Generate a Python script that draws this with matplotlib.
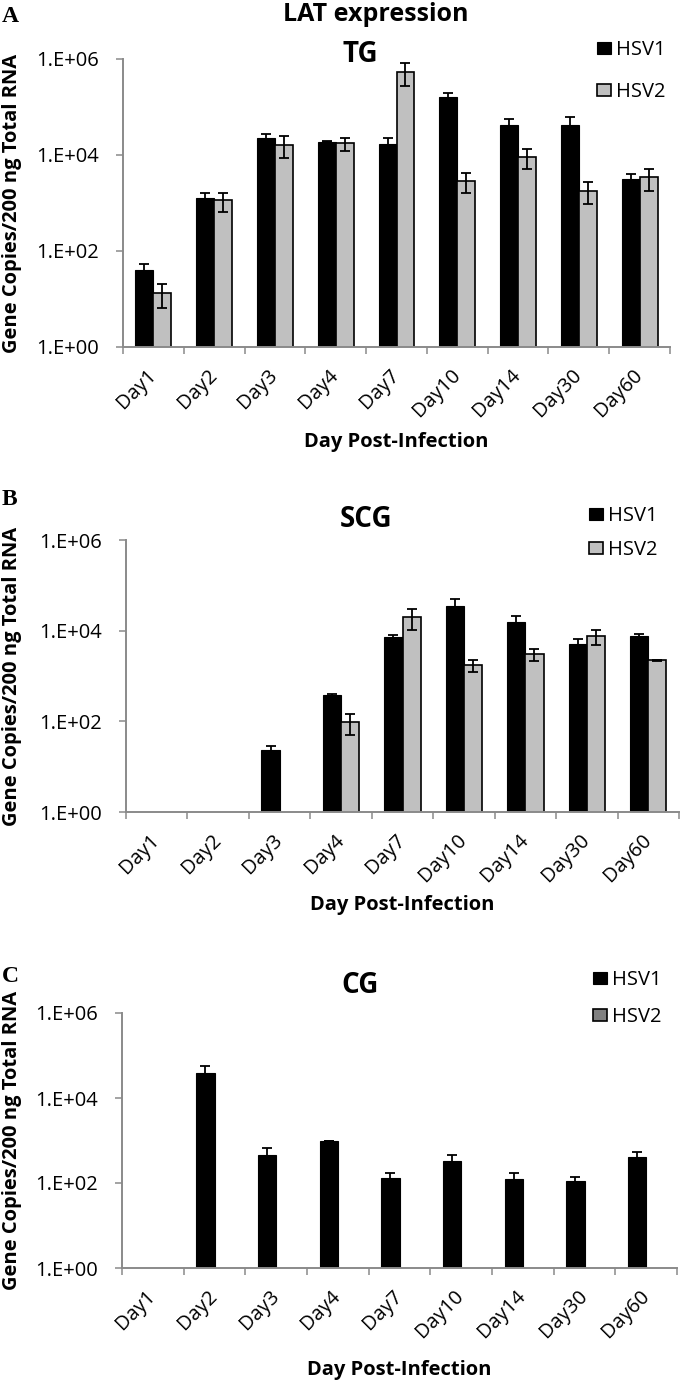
import matplotlib
matplotlib.use('Agg')
import matplotlib.pyplot as plt
import matplotlib.transforms as mtrans
from matplotlib.ticker import FixedLocator, FuncFormatter, NullFormatter
import numpy as np

plt.rcParams['font.family'] = ['Open Sans', 'DejaVu Sans']

# ---- data ----
days = ['Day1', 'Day2', 'Day3', 'Day4', 'Day7', 'Day10', 'Day14', 'Day30', 'Day60']
series = ['HSV1', 'HSV2']
nan = np.nan

# A: TG
tg_hsv1 = [40.5, 1280, 22600, 19000, 17000, 160000, 42500, 42500, 3200]
tg_hsv1_err = [13.5, 340, 4900, 600, 5400, 40000, 12500, 19000, 870]
tg_hsv2 = [13.3, 1130, 16500, 17500, 543000, 2940, 9300, 1820, 3450]
tg_hsv2_err = [6.8, 490, 8000, 5100, 270000, 1330, 4200, 870, 1680]

# B: SCG
scg_hsv1 = [nan, nan, 23.8, 372, 7350, 35600, 15800, 4990, 7730]
scg_hsv1_err = [0, 0, 5.4, 26, 780, 14000, 5600, 1430, 680]
scg_hsv2 = [nan, nan, nan, 97, 20300, 1740, 3030, 7600, 2240]
scg_hsv2_err = [0, 0, 0, 47, 10000, 540, 840, 2700, 50]

# C: CG (no HSV2 signal)
cg_hsv1 = [nan, 38700, 468, 1000, 134, 333, 121, 110, 412]
cg_hsv1_err = [0, 18800, 190, 0, 39, 120, 49, 27, 120]
cg_hsv2 = [nan] * 9
cg_hsv2_err = [0] * 9

W, H = 680, 1382
fig = plt.figure(figsize=(W / 100, H / 100), dpi=100)

AXIS_GREY = '#8a8a8a'
FS = 14.5


def px_rect(left, right, top, bottom):
    return [left / W, 1 - bottom / H, (right - left) / W, (bottom - top) / H]


def sci_fmt(v, pos):
    return '1.E+%02d' % int(round(np.log10(v)))


def panel(rect, h1, e1, h2, e2, c2, name, name_xy, letter, letter_xy,
          leg_xy, leg_space, xlab_y):
    ax = fig.add_axes(rect)
    x = np.arange(len(days)) + 0.5
    bw = 0.295
    ax.bar(x - bw / 2, h1, bw, color='black', edgecolor='black', lw=0.8,
           label=series[0], zorder=2)
    ax.bar(x + bw / 2, h2, bw, color=c2, edgecolor='black', lw=1.2,
           label=series[1], zorder=2)
    ax.errorbar(x - bw / 2, h1, yerr=e1, fmt='none', ecolor='black',
                elinewidth=1.3, capsize=3.6, capthick=1.3, zorder=3)
    ax.errorbar(x + bw / 2, h2, yerr=e2, fmt='none', ecolor='black',
                elinewidth=1.3, capsize=3.6, capthick=1.3, zorder=3)

    ax.set_yscale('log')
    ax.set_ylim(1, 1e6)
    ax.set_xlim(0, len(days))
    ax.yaxis.set_major_locator(FixedLocator([1, 1e2, 1e4, 1e6]))
    ax.yaxis.set_major_formatter(FuncFormatter(sci_fmt))
    ax.yaxis.set_minor_locator(FixedLocator([]))
    ax.tick_params(axis='y', which='major', length=5, width=1.1,
                   color=AXIS_GREY, labelsize=FS, pad=12)

    ax.xaxis.set_major_locator(FixedLocator(np.arange(len(days) + 1)))
    ax.xaxis.set_major_formatter(NullFormatter())
    ax.xaxis.set_minor_locator(FixedLocator(x))
    ax.set_xticklabels(days, minor=True)
    ax.tick_params(axis='x', which='major', length=5, width=1.1,
                   color=AXIS_GREY)
    ax.tick_params(axis='x', which='minor', length=0, labelsize=FS, pad=13)
    shift = mtrans.ScaledTranslation(7 / 100, 0, fig.dpi_scale_trans)
    for lab in ax.get_xticklabels(minor=True):
        lab.set_rotation(45)
        lab.set_ha('right')
        lab.set_transform(lab.get_transform() + shift)

    for s in ['top', 'right']:
        ax.spines[s].set_visible(False)
    for s in ['left', 'bottom']:
        ax.spines[s].set_color(AXIS_GREY)
        ax.spines[s].set_linewidth(1.4)

    ax.set_ylabel('Gene Copies/200 ng Total RNA', fontsize=FS,
                  fontweight='bold')
    ax.yaxis.set_label_coords((22 - rect[0] * W) / (rect[2] * W), 0.5)
    fig.text(0.5 * (rect[0] * 2 + rect[2]), 1 - xlab_y / H,
             'Day Post-Infection', ha='center', va='baseline', fontsize=FS,
             fontweight='bold')

    fig.text(name_xy[0] / W, 1 - name_xy[1] / H, name, ha='center',
             va='baseline', fontsize=20, fontweight='bold')
    fig.text(letter_xy[0] / W, 1 - letter_xy[1] / H, letter, ha='left',
             va='baseline', fontsize=17, fontweight='bold',
             family='Liberation Serif')

    ax.legend(loc='upper left', bbox_to_anchor=(leg_xy[0] / W, 1 - leg_xy[1] / H),
              bbox_transform=fig.transFigure, frameon=False, fontsize=FS,
              handlelength=0.7, handleheight=0.6, handletextpad=0.25,
              labelspacing=leg_space, borderpad=0, borderaxespad=0)
    return ax


fig.text(376 / W, 1 - 21 / H, 'LAT expression', ha='center', va='baseline',
         fontsize=18, fontweight='bold')

panel(px_rect(123, 670, 59, 347), tg_hsv1, tg_hsv1_err, tg_hsv2, tg_hsv2_err,
      '#c0c0c0', 'TG', (360, 62), 'A', (2, 22), (597, 40), 1.1, 447)
panel(px_rect(126, 679, 540, 812), scg_hsv1, scg_hsv1_err, scg_hsv2,
      scg_hsv2_err, '#c0c0c0', 'SCG', (366, 527), 'B', (2, 505), (589, 506),
      0.7, 910)
panel(px_rect(122, 677, 1013, 1268), cg_hsv1, cg_hsv1_err, cg_hsv2,
      cg_hsv2_err, '#808080', 'CG', (360, 993), 'C', (2, 982), (593, 970),
      0.85, 1375)

fig.savefig('out.png', dpi=100)
